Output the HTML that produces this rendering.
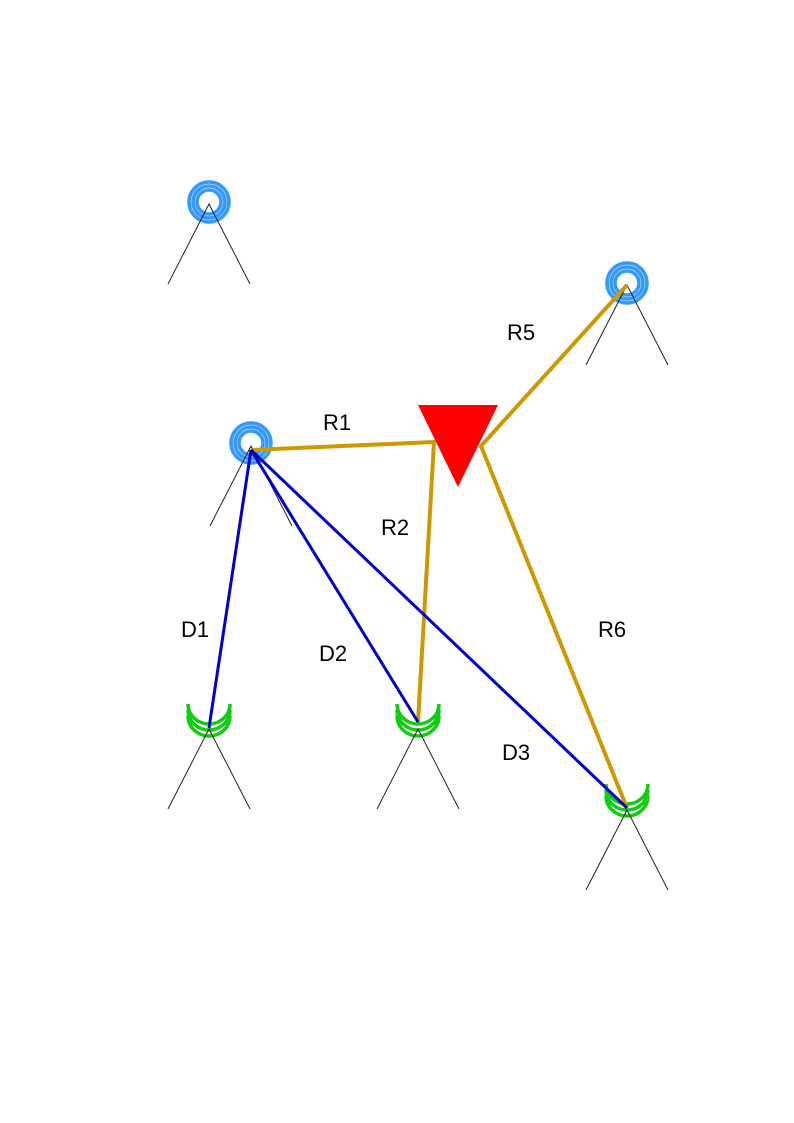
<!DOCTYPE html>
<html><head><meta charset="utf-8"><style>body{margin:0;background:#fff}svg{display:block}</style></head><body>
<svg width="794" height="1123" viewBox="0 0 794 1123" xmlns="http://www.w3.org/2000/svg" font-family="Liberation Sans, sans-serif" font-size="22">
<defs>
<g id="bl">
<circle r="20" fill="none" stroke="#3399ff" stroke-width="3.6"/>
<circle r="16" fill="none" stroke="#3399ff" stroke-width="3.6"/>
<circle r="12" fill="none" stroke="#3399ff" stroke-width="3.6"/>
</g>
<g id="gr" fill="none" stroke="#11cc11" stroke-width="3.5">
<path d="M-21,-24 A21,20 0 0 0 21,-24"/>
<path d="M-21,-18 A21,20 0 0 0 21,-18"/>
<path d="M-21,-12 A21,20 0 0 0 21,-12"/>
</g>
<g id="ant" fill="none" stroke="#222" stroke-width="1"><path d="M-41,80 L0,0 L41,80"/></g>
</defs>
<use href="#bl" x="209" y="202"/><use href="#ant" x="209" y="204"/>
<use href="#bl" x="627" y="283"/><use href="#ant" x="627" y="285"/>
<use href="#bl" x="251" y="443"/><use href="#ant" x="251" y="446"/>
<use href="#gr" x="209" y="728"/><use href="#ant" x="209" y="729"/>
<use href="#gr" x="418" y="728"/><use href="#ant" x="418" y="729"/>
<use href="#gr" x="627" y="808"/><use href="#ant" x="627" y="810"/>
<g stroke="#cc9900" stroke-width="4" fill="none">
<path d="M251,450 L434,442 L418,722"/>
<path d="M627,285 L481,446 L627,808"/>
</g>
<g stroke="#0000cc" stroke-width="3" fill="none">
<path d="M251,450 L209,728"/><path d="M251,450 L418,722"/><path d="M251,450 L627,808"/>
</g>
<polygon points="418,405 498,405 458,487" fill="#ff0000"/>
<g fill="#000" text-anchor="middle">
<text x="337" y="430">R1</text><text x="521" y="340">R5</text>
<text x="395" y="535">R2</text><text x="612" y="637">R6</text>
<text x="195" y="637">D1</text><text x="333" y="661">D2</text>
<text x="516" y="760">D3</text>
</g>
</svg>
</body></html>
